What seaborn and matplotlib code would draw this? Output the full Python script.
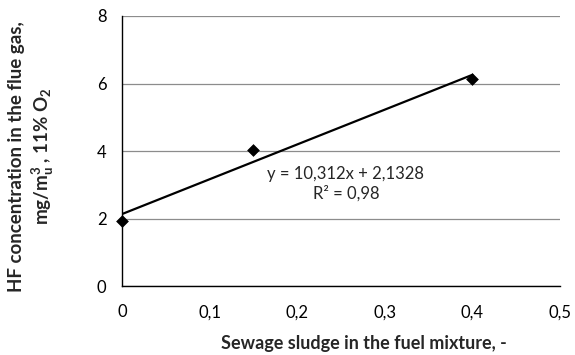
import matplotlib
matplotlib.use("Agg")
import matplotlib.pyplot as plt
import seaborn as sns
import numpy as np
import pandas as pd
from matplotlib.ticker import FuncFormatter

# Data
sludge_share = [0.0, 0.15, 0.40]
hf_conc = [1.93, 4.02, 6.12]
slope = 10.312
intercept = 2.1328
fit_x = [0.0, 0.40]
x_ticks = [0, 0.1, 0.2, 0.3, 0.4, 0.5]
y_ticks = [0, 2, 4, 6, 8]

sns.set_theme(style="white")
plt.rcParams['font.family'] = ['Lato', 'DejaVu Sans']
plt.rcParams['mathtext.fontset'] = 'custom'
plt.rcParams['mathtext.rm'] = 'Lato'
plt.rcParams['mathtext.bf'] = 'Lato:bold'

fig = plt.figure(figsize=(5.75, 3.55), dpi=100)
ax = fig.add_axes([0.212, 0.194, 0.762, 0.761])

df = pd.DataFrame({"x": sludge_share, "y": hf_conc})
fit_df = pd.DataFrame({"x": fit_x, "y": [slope * v + intercept for v in fit_x]})

sns.lineplot(data=fit_df, x="x", y="y", ax=ax, color="black", linewidth=1.6, zorder=3)
sns.scatterplot(data=df, x="x", y="y", ax=ax, marker="D", s=36, color="black",
                edgecolor="black", zorder=4, clip_on=False)

ax.set_xlim(0, 0.5)
ax.set_ylim(0, 8)
ax.set_xticks(x_ticks)
ax.set_yticks(y_ticks)
fmt = FuncFormatter(lambda v, p: ("%g" % round(v, 2)).replace(".", ","))
ax.xaxis.set_major_formatter(fmt)
ax.yaxis.set_major_formatter(fmt)
ax.yaxis.grid(True, color="#8c8c8c", linewidth=0.9)
ax.set_axisbelow(True)

for s in ["top", "right"]:
    ax.spines[s].set_visible(False)
for s in ["left", "bottom"]:
    ax.spines[s].set_color("black")
    ax.spines[s].set_linewidth(1.0)

ax.tick_params(axis="both", which="major", direction="out", length=4, width=0.9,
               color="#8c8c8c", labelsize=12, labelcolor="black")
ax.tick_params(axis="x", pad=9)
ax.tick_params(axis="y", pad=7)

ax.set_xlabel("Sewage sludge in the fuel mixture, -", fontsize=13, fontweight="bold")
ax.xaxis.set_label_coords(0.553, -0.211)
ax.xaxis.label.set_va("center")
ax.set_ylabel("HF concentration in the flue gas,\nmg/m$\\mathbf{^3_u}$ , 11% O$\\mathbf{_2}$",
              fontsize=13.5, fontweight="bold", linespacing=1.25)
ax.yaxis.set_label_coords(-0.206, 0.48)
ax.yaxis.label.set_va("center")
ax.yaxis.label.set_ha("center")

ax.text(0.2557, 3.02, "y = 10,312x + 2,1328\nR² = 0,98", fontsize=12,
        ha="center", va="center", linespacing=1.25, multialignment="center")

fig.savefig("out.png", dpi=100)
